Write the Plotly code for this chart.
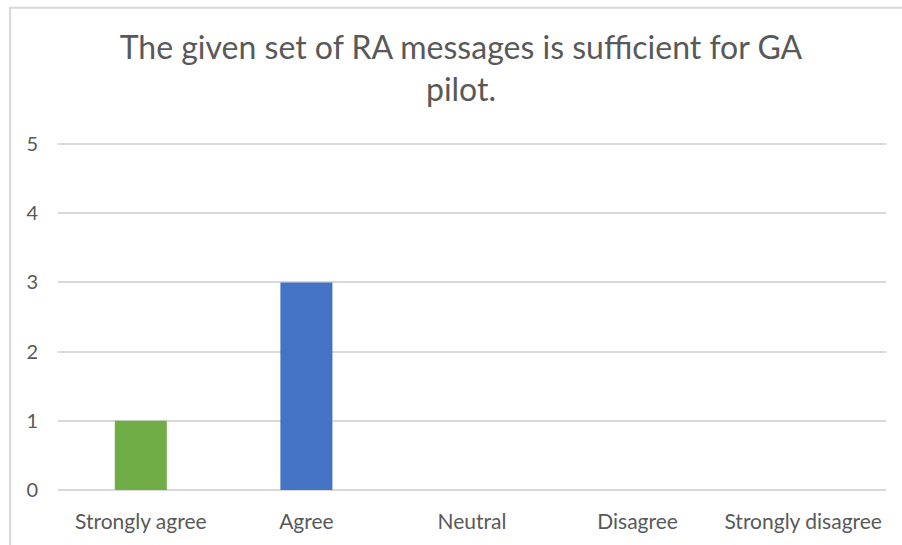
import plotly.graph_objects as go

# Survey responses for the statement
categories = ["Strongly agree", "Agree", "Neutral", "Disagree", "Strongly disagree"]
counts = [1, 3, 0, 0, 0]
bar_colors = ["#70AD47", "#4472C4", "#4472C4", "#4472C4", "#4472C4"]
y_ticks = [0, 1, 2, 3, 4, 5]

title_text = "The given set of RA messages is sufficient for GA<br>pilot."

text_color = "#595959"
grid_color = "#D9D9D9"
font_family = "Lato, 'Open Sans', sans-serif"

fig = go.Figure(
    go.Bar(
        x=categories,
        y=counts,
        marker=dict(color=bar_colors, line=dict(width=0)),
        width=0.314,
        hoverinfo="x+y",
    )
)

fig.update_layout(
    width=902,
    height=545,
    margin=dict(l=58, r=16, t=142, b=53),
    paper_bgcolor="white",
    plot_bgcolor="white",
    showlegend=False,
    font=dict(family=font_family, color=text_color, size=21),
    title=dict(
        text=title_text,
        x=0.4867,
        xanchor="center",
        xref="paper",
        y=0.891,
        yanchor="middle",
        font=dict(size=32, color=text_color, family=font_family),
    ),
    xaxis=dict(
        showgrid=False,
        showline=False,
        zeroline=False,
        ticks="",
        ticklabelstandoff=17,
        tickfont=dict(size=21, color=text_color),
    ),
    yaxis=dict(
        range=[0, 5.03],
        tickvals=y_ticks,
        showgrid=True,
        gridcolor=grid_color,
        gridwidth=1.5,
        zeroline=True,
        zerolinecolor=grid_color,
        zerolinewidth=1.5,
        showline=False,
        ticks="",
        ticklabelstandoff=19,
        tickfont=dict(size=20, color=text_color),
    ),
    shapes=[
        # chart frame
        dict(
            type="rect",
            xref="paper",
            yref="paper",
            x0=-0.058,
            x1=1.05,
            y0=-0.3,
            y1=1.386,
            line=dict(color="#D9D9D9", width=2),
            fillcolor="rgba(0,0,0,0)",
            layer="below",
        )
    ],
)

fig.write_html("out.html")
